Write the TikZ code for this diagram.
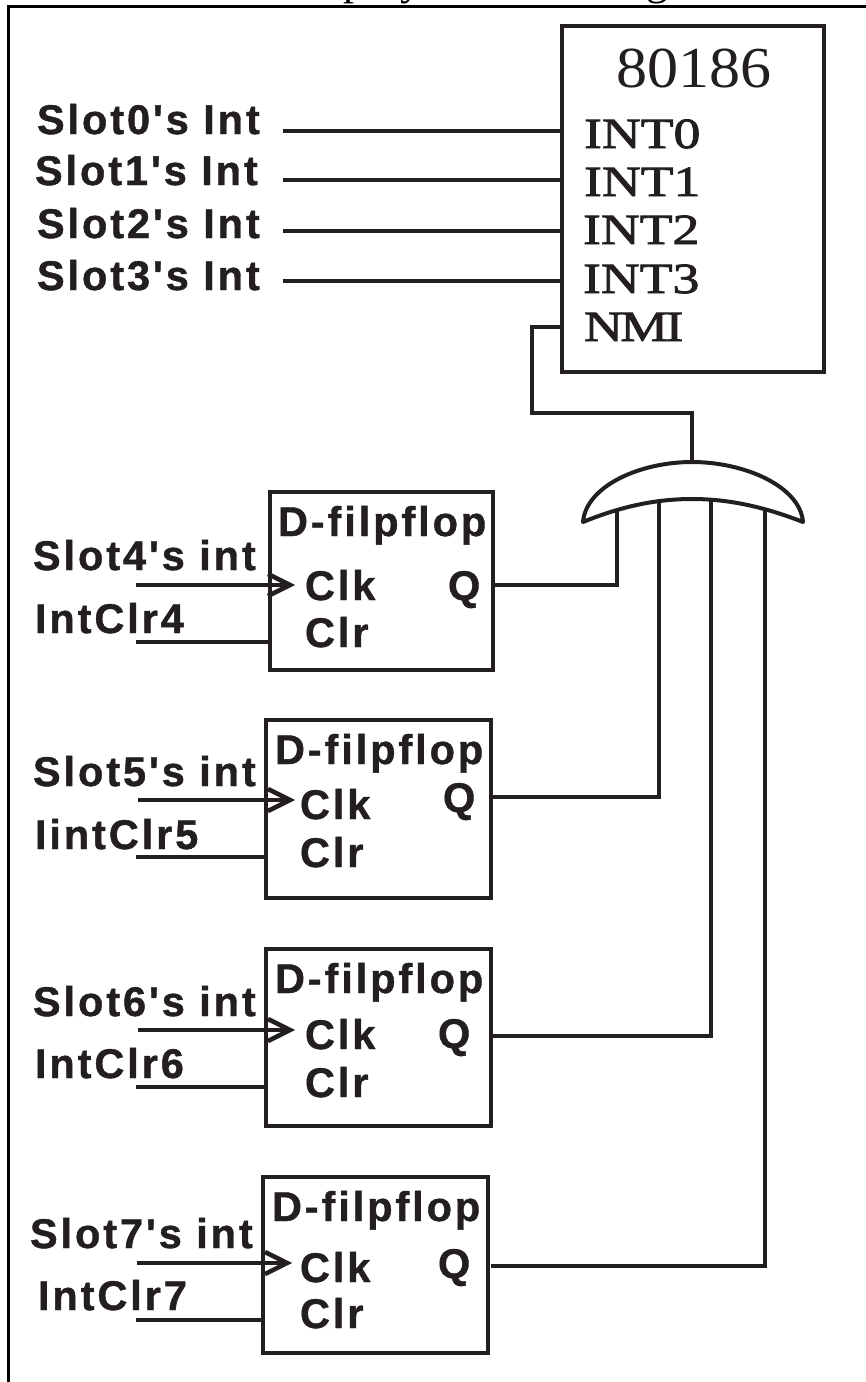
\documentclass[tikz,border=0pt]{standalone}
\usepackage{fontspec}
\usetikzlibrary{calc}
\setmainfont{Liberation Serif}
\newfontfamily\lab[LetterSpace=7,BoldFeatures={FakeBold=1}]{Liberation Sans}
\newfontfamily\ser{Liberation Serif}
\newfontfamily\serw[FakeStretch=1.25,FakeBold=2]{Liberation Serif}
\newfontfamily\sern[FakeStretch=1.25,FakeBold=2,LetterSpace=-6]{Liberation Serif}
\newfontfamily\sert[FakeStretch=1.07]{Liberation Serif}
\definecolor{ink}{HTML}{231F20}
\tikzset{
  wire/.style={draw=ink,line width=4pt,line join=miter},
  box/.style={draw=ink,line width=4.5pt,fill=white,anchor=north west,inner sep=0pt,outer sep=0pt},
  lbl/.style={anchor=base west,inner sep=0pt,outer sep=0pt,text=ink,font=\lab\bfseries\fontsize{41.5}{41.5}\selectfont},
  pin/.style={anchor=base west,inner sep=0pt,outer sep=0pt,text=ink,font=\serw\fontsize{43}{43}\selectfont},
  pinn/.style={anchor=base west,inner sep=0pt,outer sep=0pt,text=ink,font=\sern\fontsize{43}{43}\selectfont},
  ghost/.style={anchor=base west,inner sep=0pt,outer sep=0pt,text=black,font=\ser\fontsize{44}{44}\selectfont},
  chev/.style={draw=ink,line width=4.5pt,line join=miter,fill=none}
}
\begin{document}
\begin{tikzpicture}[x=1pt,y=-1pt]
\useasboundingbox (0,0) rectangle (866,1382);
\fill[white] (0,0) rectangle (866,1382);
% page frame
\coordinate (frameA) at (8,1382);
\coordinate (frameB) at (8,6.5);
\coordinate (frameC) at (866,6.5);
\draw[draw=black,line width=3pt] (frameA) -- (frameB) -- (frameC);
% clipped caption remains
\node[ghost] (capP) at (343,-6) {p};
\node[ghost] (capY) at (400,-6) {y};
\node[ghost] (capG) at (646,-6) {g};
% chip
\node[box,minimum width=262pt,minimum height=346pt] (chip) at (562,26) {};
\node[anchor=base west,inner sep=0pt,text=ink,font=\sert\fontsize{58}{58}\selectfont] (chipname) at (616,87) {80186};
\node[pin] (int0) at (584,148) {INT0};
\node[pin] (int1) at (584,196) {INT1};
\node[pin] (int2) at (583,244) {INT2};
\node[pin] (int3) at (583,293) {INT3};
\node[pinn] (nmi) at (584,341) {NMI};
% top inputs
\node[lbl] (s0) at (37,134) {Slot0's Int};
\node[lbl] (s1) at (35,185) {Slot1's Int};
\node[lbl] (s2) at (37,238) {Slot2's Int};
\node[lbl] (s3) at (37,290) {Slot3's Int};
\coordinate (w0) at (283,131);
\coordinate (w1) at (283,180);
\coordinate (w2) at (283,231);
\coordinate (w3) at (283,281);
\draw[wire] (w0) -- (w0 -| chip.west);
\draw[wire] (w1) -- (w1 -| chip.west);
\draw[wire] (w2) -- (w2 -| chip.west);
\draw[wire] (w3) -- (w3 -| chip.west);
% OR gate
\coordinate (gL) at (583,522);
\coordinate (gR) at (803,522);
\coordinate (gT) at (692,462);
\coordinate (gB) at (692,499);
\coordinate (nmiPin) at (562,327);
\coordinate (nmiA) at (532,327);
\coordinate (nmiB) at (532,413);
\coordinate (nmiC) at (692,413);
% flip-flops
\foreach \n/\x/\yy/\w/\hh/\tx/\qx/\qy in {1/270/492/223/178/278/448/600,2/266/720/225/178/275/443/812,3/266/949/225/177/275/438/1048,4/263/1177/225/176/272/438/1278}{
  \node[box,minimum width=\w pt,minimum height=\hh pt] (ff\n) at (\x,\yy) {};
  \node[lbl] (ttl\n) at (\tx,\yy+44) {D-filpflop};
  \node[lbl] (q\n) at (\qx,\qy) {Q};
}
\node[lbl] (clk1) at (305,600) {Clk};   \node[lbl] (clr1) at (305,647) {Clr};
\node[lbl] (clk2) at (300,819) {Clk};   \node[lbl] (clr2) at (300,867) {Clr};
\node[lbl] (clk3) at (305,1049) {Clk};  \node[lbl] (clr3) at (305,1097) {Clr};
\node[lbl] (clk4) at (300,1282) {Clk};  \node[lbl] (clr4) at (300,1328) {Clr};
\node[lbl] (sl4) at (33,570) {Slot4's int};
\node[lbl] (ic4) at (35,633) {IntClr4};
\node[lbl] (sl5) at (33,786) {Slot5's int};
\node[lbl] (ic5) at (35,849) {IintClr5};
\node[lbl] (sl6) at (33,1016) {Slot6's int};
\node[lbl] (ic6) at (35,1078) {IntClr6};
\node[lbl] (sl7) at (30,1248) {Slot7's int};
\node[lbl] (ic7) at (38,1310) {IntClr7};
% flip-flop inputs
\foreach \n/\a/\ay/\b/\by/\tip in {1/136/585/136/642/290,2/138/800/136/857/290,3/138/1030/136/1087/290,4/137/1263/136/1320/287}{
  \coordinate (ck\n) at (\a,\ay);
  \coordinate (cl\n) at (\b,\by);
  \coordinate (tp\n) at (\tip,\ay);
  \draw[wire] (ck\n) -- (tp\n);
  \draw[wire] (cl\n) -- (cl\n -| ff\n.west);
  \draw[chev] ($(tp\n)+(-22,-11)$) -- (tp\n) -- ($(tp\n)+(-22,11)$);
}
% flip-flop outputs to gate
\coordinate (o1) at (617,510); \coordinate (o2) at (659,502);
\coordinate (o3) at (711,499); \coordinate (o4) at (765,508);
\coordinate (h1) at (495,585); \coordinate (h2) at (493,797);
\coordinate (h3) at (493,1036); \coordinate (h4) at (491,1266);
\draw[wire] (h1) -- (h1 -| o1) -- (o1);
\draw[wire] (h2) -- (h2 -| o2) -- (o2);
\draw[wire] (h3) -- (h3 -| o3) -- (o3);
\draw[wire] (h4) -- (h4 -| o4) -- (o4);
\draw[wire] (nmiPin) -- (nmiA) -- (nmiB) -- (nmiC) -- (gT);
\draw[wire,line join=round,line cap=round] (gL) .. controls (586,486) and (640,462) .. (gT)
  .. controls (744,462) and (800,486) .. (gR)
  .. controls (762,506) and (727,499) .. (gB)
  .. controls (657,499) and (622,506) .. (gL) -- cycle;
\end{tikzpicture}
\end{document}
